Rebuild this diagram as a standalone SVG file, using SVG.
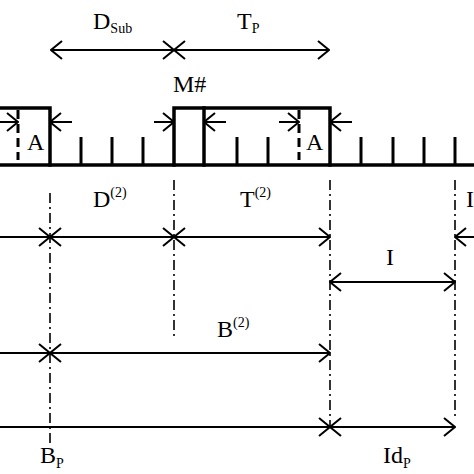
<svg xmlns="http://www.w3.org/2000/svg" width="474" height="474" viewBox="0 0 474 474">
<style>
.t{font-family:"Liberation Serif","Times New Roman",serif;font-size:24px;fill:#000}
.s{font-size:14px}
.ar{stroke:#000;stroke-width:2;fill:none}
.th{stroke:#000;stroke-width:3.5;fill:none;stroke-linecap:square}
.tk{stroke:#000;stroke-width:3;fill:none}
.dd{stroke:#000;stroke-width:1.6;fill:none;stroke-dasharray:10 4 2 4}
.dash{stroke:#000;stroke-width:3;fill:none;stroke-dasharray:9 5}
</style>
<defs>
<marker id="ah" viewBox="0 0 13 20" refX="12" refY="10" markerWidth="13" markerHeight="20" markerUnits="userSpaceOnUse" orient="auto-start-reverse">
<path d="M1,1 L12,10 L1,19" stroke="#000" stroke-width="2" fill="none"/>
</marker>
</defs>
<rect width="474" height="474" fill="#fff"/>

<g id="guides">
<line class="dd" x1="50" y1="193" x2="50" y2="445"/>
<line class="dd" x1="174" y1="180" x2="174" y2="340"/>
<line class="dd" x1="330" y1="180" x2="330" y2="428"/>
<line class="dd" x1="455" y1="180" x2="455" y2="418"/>
</g>

<g id="pulse-train">
<polyline class="th" points="0,108 50,108 50,165"/>
<polyline class="th" points="174,165 174,108 330,108 330,165"/>
<line class="th" x1="204" y1="108" x2="204" y2="165"/>
<line class="th" x1="0" y1="165" x2="474" y2="165"/>
<g class="tk">
<line x1="81" y1="137" x2="81" y2="165"/>
<line x1="112" y1="137" x2="112" y2="165"/>
<line x1="143" y1="137" x2="143" y2="165"/>
<line x1="237" y1="137" x2="237" y2="165"/>
<line x1="268" y1="137" x2="268" y2="165"/>
<line x1="361" y1="137" x2="361" y2="165"/>
<line x1="393" y1="137" x2="393" y2="165"/>
<line x1="424" y1="137" x2="424" y2="165"/>
<line x1="455" y1="137" x2="455" y2="165"/>
</g>
<line class="dash" x1="18" y1="110" x2="18" y2="160"/>
<line class="dash" x1="299" y1="110" x2="299" y2="160"/>
<text class="t" x="27" y="150">A</text>
<text class="t" x="306" y="150">A</text>
</g>

<g id="connectors">
<line class="ar" x1="0" y1="122" x2="18" y2="122" marker-end="url(#ah)"/>
<line class="ar" x1="72" y1="122" x2="50" y2="122" marker-end="url(#ah)"/>
<line class="ar" x1="154" y1="122" x2="174" y2="122" marker-end="url(#ah)"/>
<line class="ar" x1="226" y1="122" x2="204" y2="122" marker-end="url(#ah)"/>
<line class="ar" x1="279" y1="122" x2="299" y2="122" marker-end="url(#ah)"/>
<line class="ar" x1="352" y1="122" x2="330" y2="122" marker-end="url(#ah)"/>

<line class="ar" x1="51" y1="50" x2="174" y2="50" marker-start="url(#ah)" marker-end="url(#ah)"/>
<line class="ar" x1="174" y1="50" x2="329" y2="50" marker-start="url(#ah)" marker-end="url(#ah)"/>

<line class="ar" x1="0" y1="237" x2="50" y2="237" marker-end="url(#ah)"/>
<line class="ar" x1="50" y1="237" x2="174" y2="237" marker-start="url(#ah)" marker-end="url(#ah)"/>
<line class="ar" x1="174" y1="237" x2="330" y2="237" marker-start="url(#ah)" marker-end="url(#ah)"/>
<line class="ar" x1="474" y1="237" x2="455" y2="237" marker-end="url(#ah)"/>

<line class="ar" x1="330" y1="282" x2="455" y2="282" marker-start="url(#ah)" marker-end="url(#ah)"/>

<line class="ar" x1="0" y1="353" x2="50" y2="353" marker-end="url(#ah)"/>
<line class="ar" x1="50" y1="353" x2="330" y2="353" marker-start="url(#ah)" marker-end="url(#ah)"/>

<line class="ar" x1="0" y1="427" x2="330" y2="427" marker-end="url(#ah)"/>
<line class="ar" x1="330" y1="427" x2="455" y2="427" marker-start="url(#ah)" marker-end="url(#ah)"/>
</g>

<g id="labels">
<text class="t" x="93" y="29">D<tspan class="s" dy="4">Sub</tspan></text>
<text class="t" x="237" y="29">T<tspan class="s" dy="4">P</tspan></text>
<text class="t" x="173" y="92">M#</text>
<text class="t" x="93" y="207">D<tspan class="s" dy="-10">(2)</tspan></text>
<text class="t" x="240" y="207">T<tspan class="s" dy="-10">(2)</tspan></text>
<text class="t" x="466" y="207">I</text>
<text class="t" x="386" y="265">I</text>
<text class="t" x="217" y="337">B<tspan class="s" dy="-10">(2)</tspan></text>
<text class="t" x="40" y="463">B<tspan class="s" dy="5">P</tspan></text>
<text class="t" x="383" y="463">Id<tspan class="s" dy="5">P</tspan></text>
</g>
</svg>
